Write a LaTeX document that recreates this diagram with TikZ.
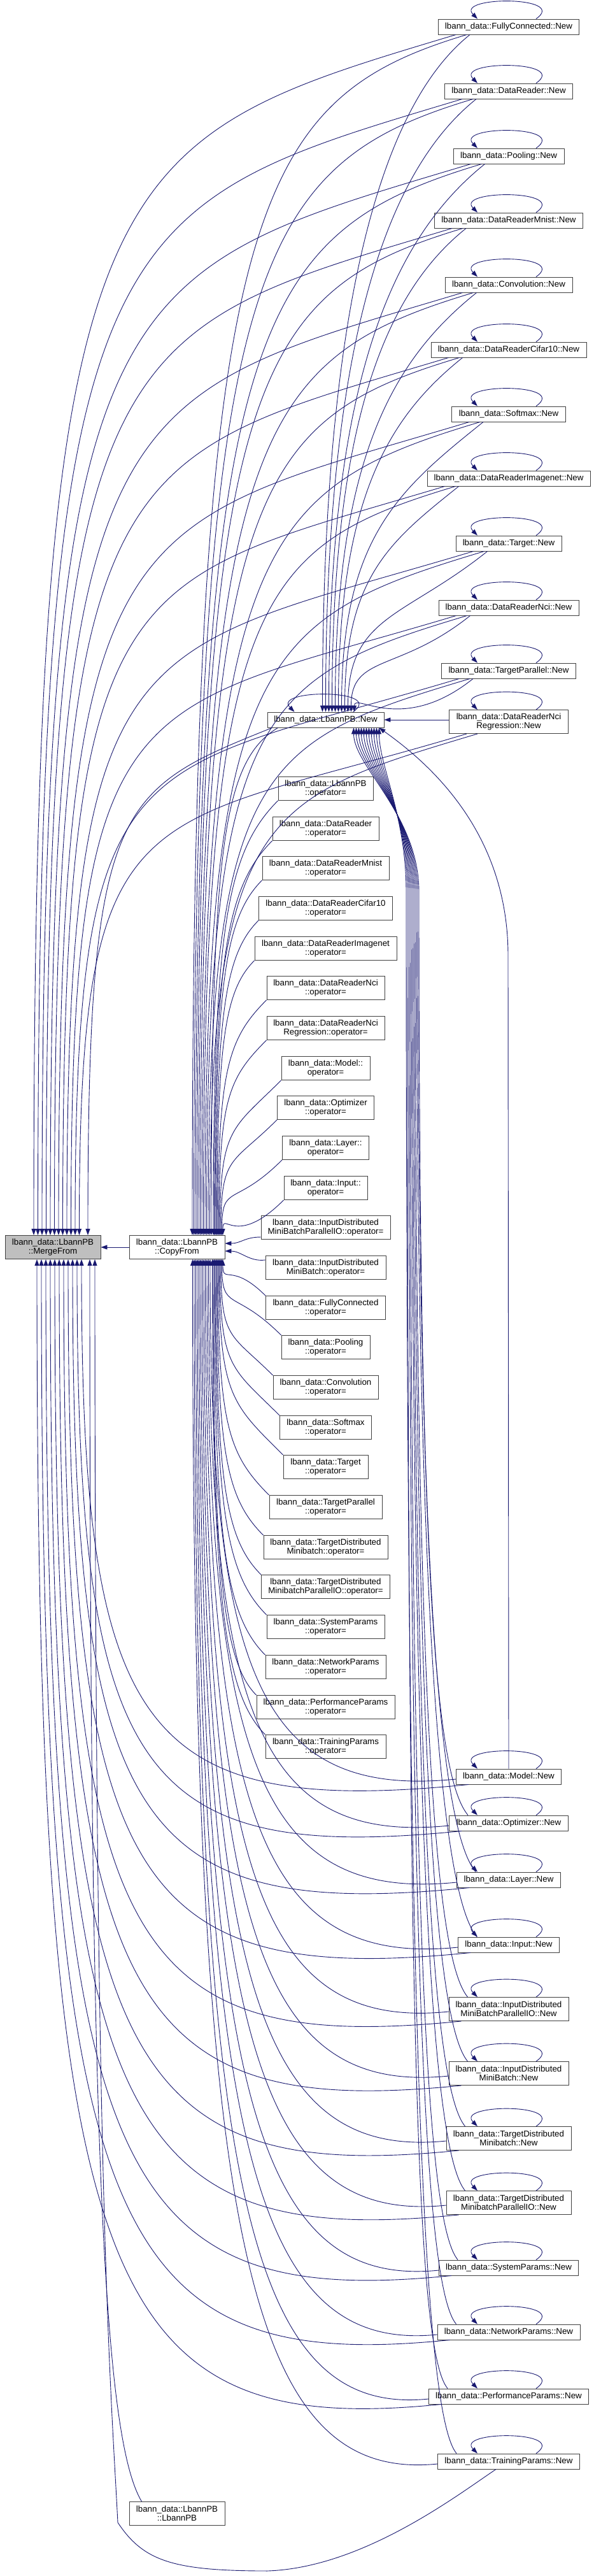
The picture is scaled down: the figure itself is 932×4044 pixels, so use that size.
\documentclass[tikz,border=0pt]{standalone}
\usepackage{fontspec}
\setmainfont{Liberation Sans}
\usetikzlibrary{arrows.meta,calc}
\definecolor{edgec}{HTML}{191970}
\definecolor{nodeb}{HTML}{404040}
\definecolor{rootf}{HTML}{BFBFBF}
\tikzset{
  fn/.style={draw=nodeb, fill=white, line width=0.9pt, inner xsep=0pt, inner ysep=0pt,
    minimum height=24pt, align=center, font=\fontsize{13.33}{14}\selectfont},
  fntwo/.style={fn, minimum height=37pt},
  cl/.style={draw=edgec, line width=0.9pt, {Triangle[length=10pt,width=7pt]}-},
}
\newcommand\ce[5]{\draw[cl] let \p1=(#1), \p2=(#2) in (\p1) .. controls +(0pt,{#3*(\y2-\y1)}) and +({#4*(\x1-\x2)},{#4*#5*(\x1-\x2)}) .. (\p2);}
\newcommand\sloop[1]{\draw[cl] ([xshift=-49pt]#1.north) .. controls +(-36,-36) and +(52,-36) .. ([xshift=43pt]#1.north);}
\begin{document}
\begin{tikzpicture}[x=1pt,y=-1pt]
\useasboundingbox (0,0) rectangle (932,4044);
% right column
\node[fn, minimum width=221pt] (rFC) at (799,42) {lbann\_data::FullyConnected::New};
\node[fn, minimum width=201pt] (rDR) at (799,143) {lbann\_data::DataReader::New};
\node[fn, minimum width=174pt] (rPool) at (799,245) {lbann\_data::Pooling::New};
\node[fn, minimum width=233pt] (rMnist) at (799,346) {lbann\_data::DataReaderMnist::New};
\node[fn, minimum width=200pt] (rConv) at (799,447) {lbann\_data::Convolution::New};
\node[fn, minimum width=244pt] (rCifar) at (799,549) {lbann\_data::DataReaderCifar10::New};
\node[fn, minimum width=179pt] (rSoft) at (799,650) {lbann\_data::Softmax::New};
\node[fn, minimum width=256pt] (rImg) at (799,751) {lbann\_data::DataReaderImagenet::New};
\node[fn, minimum width=166pt] (rTgt) at (799,853) {lbann\_data::Target::New};
\node[fn, minimum width=220pt] (rNci) at (799,954) {lbann\_data::DataReaderNci::New};
\node[fn, minimum width=211pt] (rTP) at (799,1053) {lbann\_data::TargetParallel::New};
\node[fntwo, minimum width=187pt] (rNciR) at (799,1133) {lbann\_data::DataReaderNci\\Regression::New};
\node[fn, minimum width=165pt] (rModel) at (799,2789) {lbann\_data::Model::New};
\node[fn, minimum width=187pt] (rOpt) at (799,2862) {lbann\_data::Optimizer::New};
\node[fn, minimum width=163pt] (rLayer) at (799,2951) {lbann\_data::Layer::New};
\node[fn, minimum width=159pt] (rInput) at (799,3053) {lbann\_data::Input::New};
\node[fntwo, minimum width=188pt] (rIDPIO) at (799,3154) {lbann\_data::InputDistributed\\MiniBatchParallelIO::New};
\node[fntwo, minimum width=188pt] (rIDMB) at (799,3255) {lbann\_data::InputDistributed\\MiniBatch::New};
\node[fntwo, minimum width=196pt] (rTDM) at (799,3357) {lbann\_data::TargetDistributed\\Minibatch::New};
\node[fntwo, minimum width=196pt] (rTDPIO) at (799,3458) {lbann\_data::TargetDistributed\\MinibatchParallelIO::New};
\node[fn, minimum width=219pt] (rSP) at (799,3560) {lbann\_data::SystemParams::New};
\node[fn, minimum width=224pt] (rNP) at (799,3661) {lbann\_data::NetworkParams::New};
\node[fn, minimum width=251pt] (rPP) at (799,3762) {lbann\_data::PerformanceParams::New};
\node[fn, minimum width=223pt] (rTrP) at (799,3864) {lbann\_data::TrainingParams::New};
% middle column
\node[fn, minimum width=183pt] (N) at (511.5,1130) {lbann\_data::LbannPB::New};
\node[fntwo, minimum width=149pt] (oLPB) at (511.5,1238) {lbann\_data::LbannPB\\::operator=};
\node[fntwo, minimum width=167pt] (oDR) at (511.5,1301) {lbann\_data::DataReader\\::operator=};
\node[fntwo, minimum width=199pt] (oMnist) at (511.5,1363) {lbann\_data::DataReaderMnist\\::operator=};
\node[fntwo, minimum width=210pt] (oCifar) at (511.5,1426) {lbann\_data::DataReaderCifar10\\::operator=};
\node[fntwo, minimum width=223pt] (oImg) at (511.5,1489) {lbann\_data::DataReaderImagenet\\::operator=};
\node[fntwo, minimum width=185pt] (oNci) at (511.5,1551) {lbann\_data::DataReaderNci\\::operator=};
\node[fntwo, minimum width=185pt] (oNciR) at (511.5,1614) {lbann\_data::DataReaderNci\\Regression::operator=};
\node[fntwo, minimum width=139pt] (oModel) at (511.5,1677) {lbann\_data::Model::\\operator=};
\node[fntwo, minimum width=152pt] (oOpt) at (511.5,1739) {lbann\_data::Optimizer\\::operator=};
\node[fntwo, minimum width=136pt] (oLayer) at (511.5,1802) {lbann\_data::Layer::\\operator=};
\node[fntwo, minimum width=131pt] (oInput) at (511.5,1865) {lbann\_data::Input::\\operator=};
\node[fntwo, minimum width=203pt] (oIDPIO) at (511.5,1927) {lbann\_data::InputDistributed\\MiniBatchParallelIO::operator=};
\node[fntwo, minimum width=189pt] (oIDMB) at (511.5,1990) {lbann\_data::InputDistributed\\MiniBatch::operator=};
\node[fntwo, minimum width=188pt] (oFC) at (511.5,2053) {lbann\_data::FullyConnected\\::operator=};
\node[fntwo, minimum width=139pt] (oPool) at (511.5,2115) {lbann\_data::Pooling\\::operator=};
\node[fntwo, minimum width=165pt] (oConv) at (511.5,2178) {lbann\_data::Convolution\\::operator=};
\node[fntwo, minimum width=144pt] (oSoft) at (511.5,2241) {lbann\_data::Softmax\\::operator=};
\node[fntwo, minimum width=133pt] (oTgt) at (511.5,2303) {lbann\_data::Target\\::operator=};
\node[fntwo, minimum width=177pt] (oTP) at (511.5,2366) {lbann\_data::TargetParallel\\::operator=};
\node[fntwo, minimum width=195pt] (oTDM) at (511.5,2429) {lbann\_data::TargetDistributed\\Minibatch::operator=};
\node[fntwo, minimum width=202pt] (oTDPIO) at (511.5,2491) {lbann\_data::TargetDistributed\\MinibatchParallelIO::operator=};
\node[fntwo, minimum width=185pt] (oSP) at (511.5,2554) {lbann\_data::SystemParams\\::operator=};
\node[fntwo, minimum width=189pt] (oNP) at (511.5,2617) {lbann\_data::NetworkParams\\::operator=};
\node[fntwo, minimum width=217pt] (oPP) at (511.5,2680) {lbann\_data::PerformanceParams\\::operator=};
\node[fntwo, minimum width=189pt] (oTrP) at (511.5,2742) {lbann\_data::TrainingParams\\::operator=};
% left
\node[fntwo, fill=rootf, minimum width=150pt] (M) at (83,1958) {lbann\_data::LbannPB\\::MergeFrom};
\node[fntwo, minimum width=150pt] (C) at (278,1958) {lbann\_data::LbannPB\\::CopyFrom};
\node[fntwo, minimum width=150pt] (L) at (278,3946) {lbann\_data::LbannPB\\::LbannPB};
% edges
\draw[cl] (M.east) -- (C.west);
\foreach \r/\i in {rFC/0,rDR/1,rPool/2,rMnist/3,rConv/4,rCifar/5,rSoft/6,rImg/7,rTgt/8,rNci/9,rTP/10,rNciR/11} {
  \sloop{\r}
  \ce{[xshift={-30+6.5*\i}]M.north}{[xshift=28pt]\r.south west}{0.9}{0.85}{0.3}
  \ce{[xshift={24+2.5*\i}]C.north}{[xshift=45pt]\r.south west}{0.85}{0.8}{0.3}
}
\foreach \r/\i in {rFC/0,rDR/1,rPool/2,rMnist/3,rConv/4,rCifar/5,rSoft/6,rImg/7,rTgt/8,rNci/9,rTP/10} {
  \ce{[xshift={-5+5*\i}]N.north}{[xshift=50pt]\r.south west}{0.6}{0.6}{0.8}
}
\draw[cl] (N.east) -- (N.east -| rNciR.west);
\sloop{N}
\ce{[xshift=54pt]C.north}{[xshift=17pt]N.south west}{0.75}{0.85}{0.6}
\ce{[xshift=55pt]M.north}{[xshift=8pt]N.south west}{0.85}{0.85}{0.4}
\foreach \r/\i in {rModel/0,rOpt/1,rLayer/2,rInput/3,rIDPIO/4,rIDMB/5,rTDM/6,rTDPIO/7,rSP/8,rNP/9,rPP/10,rTrP/11} {
  \sloop{\r}
  \ce{[xshift={52-2.5*\i}]C.south}{[yshift=-4pt]\r.west}{0.8}{0.8}{0.1}
}
\foreach \r/\i in {rModel/0,rOpt/1,rLayer/2,rInput/3,rIDPIO/4,rIDMB/5,rTDM/6,rTDPIO/7,rSP/8,rNP/9,rPP/10} {
  \ce{[xshift={45-7*\i}]M.south}{[xshift=20pt]\r.south west}{0.9}{0.85}{0.1}
}
\foreach \r/\i/\xv in {rOpt/1/658,rLayer/2/656,rInput/3/654,rIDPIO/4/652,rIDMB/5/650,rTDM/6/648,rTDPIO/7/646,rSP/8/644,rNP/9/642,rPP/10/640,rTrP/11/638} {
  \draw[cl] let \p1=([xshift=30pt]\r.north west) in ([xshift={40+4*\i}]N.south) .. controls +(0,60) and +(0,-120) .. (\xv,1400) .. controls +(0pt,{0.75*(\y1+1400pt)}) and +(-50,-60) .. (\p1);
}
\draw[cl] ([xshift=-8pt]N.south east) .. controls +(70,50) and +(0,-200) .. (798,1500) -- (rModel.north);
% operator= callers
\foreach \o/\i in {oLPB/0,oDR/1,oMnist/2,oCifar/3,oImg/4,oNci/5,oNciR/6,oModel/7,oOpt/8,oLayer/9,oInput/10} {
  \ce{[xshift={57+1.5*\i}]C.north}{\o.south west}{0.7}{0.8}{1}
}
\draw[cl] ([yshift=6pt]C.east) .. controls +(25,0) and +(-25,0) .. ([yshift=-15pt]oIDPIO.west);
\draw[cl] ([yshift=-6pt]C.east) .. controls +(25,0) and +(-25,3) .. ([yshift=12pt]oIDMB.west);
\foreach \o/\i in {oFC/0,oPool/1,oConv/2,oSoft/3,oTgt/4,oTP/5,oTDM/6,oTDPIO/7,oSP/8,oNP/9,oPP/10,oTrP/11} {
  \ce{[xshift={72-1.5*\i}]C.south}{\o.north west}{0.7}{0.8}{-1}
}
\draw[cl] ([xshift=58pt]M.south) .. controls +(0,1400) and +(-60,-100) .. ([xshift=20pt]L.north west);
\draw[cl] ([xshift=66pt]M.south) .. controls +(0,1500) and +(-10,-200) .. (185,3960) .. controls +(40,60) and +(-150,0) .. (420,4036) .. controls +(150,-5) and +(-60,40) .. ([xshift=-20pt]rTrP.south);
\end{tikzpicture}
\end{document}
